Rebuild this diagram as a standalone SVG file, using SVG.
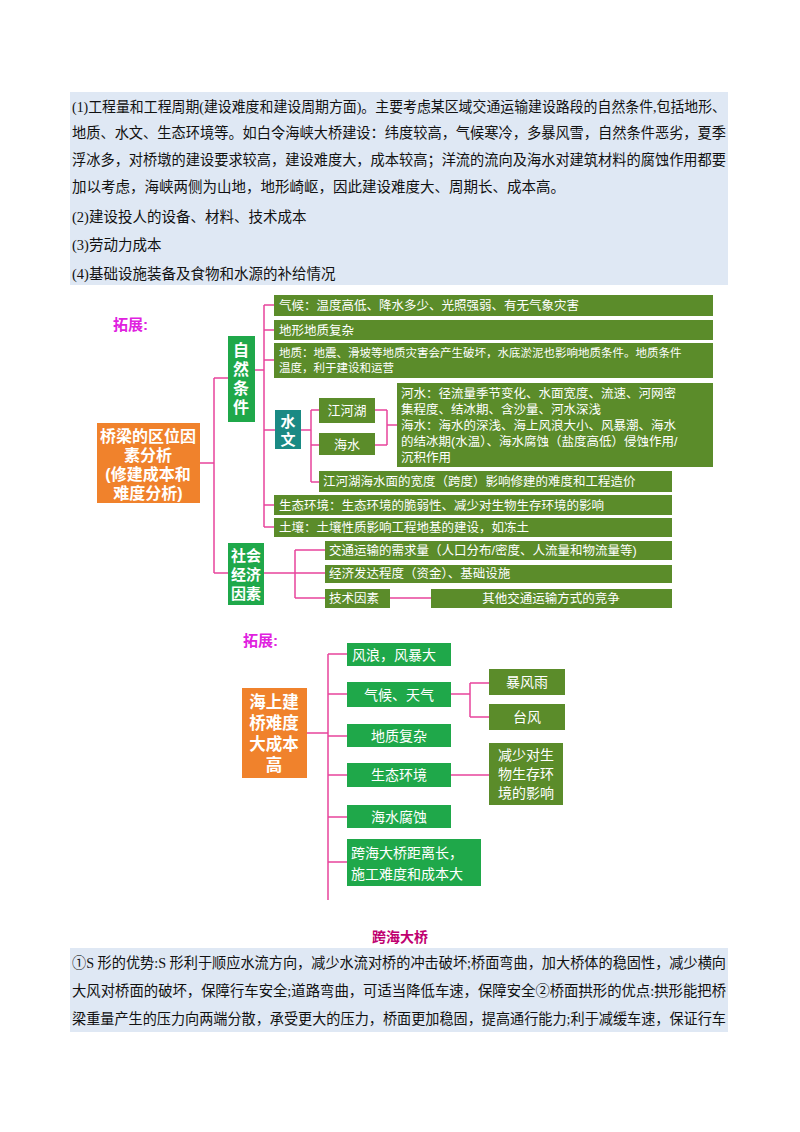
<svg xmlns="http://www.w3.org/2000/svg" width="800" height="1132" viewBox="0 0 800 1132">
<style>
.t{font-family:"Liberation Serif","Noto Sans CJK SC",serif;font-size:14.5px;fill:#111}
.s{font-family:"Liberation Sans","Noto Sans CJK SC",sans-serif;fill:#fff}
.o{fill:#5b8c2a}
.g{fill:#1fa84a}
.c{stroke:#e8449c;stroke-width:1.5;fill:none}
.or{fill:#f0822c}
.m{font-family:"Liberation Sans","Noto Sans CJK SC",sans-serif;font-weight:bold;fill:#e021e0;font-size:15px}
</style>
<rect width="800" height="1132" fill="#fff"/>
<rect x="70" y="92" width="658" height="193" fill="#dfe8f4"/>
<rect x="70" y="948" width="658" height="84" fill="#dfe8f4"/>
<g id="text-top">
<text class="t" x="72" y="112" textLength="654" lengthAdjust="spacingAndGlyphs">(1)工程量和工程周期(建设难度和建设周期方面)。主要考虑某区域交通运输建设路段的自然条件,包括地形、</text>
<text class="t" x="72" y="138" textLength="654" lengthAdjust="spacingAndGlyphs">地质、水文、生态环境等。如白令海峡大桥建设：纬度较高，气候寒冷，多暴风雪，自然条件恶劣，夏季</text>
<text class="t" x="72" y="165" textLength="654" lengthAdjust="spacingAndGlyphs">浮冰多，对桥墩的建设要求较高，建设难度大，成本较高；洋流的流向及海水对建筑材料的腐蚀作用都要</text>
<text class="t" x="72" y="192">加以考虑，海峡两侧为山地，地形崎岖，因此建设难度大、周期长、成本高。</text>
<text class="t" x="72" y="222">(2)建设投人的设备、材料、技术成本</text>
<text class="t" x="72" y="250">(3)劳动力成本</text>
<text class="t" x="72" y="279">(4)基础设施装备及食物和水源的补给情况</text>
</g>
<text class="m" x="113" y="330">拓展:</text>
<g id="connectors1">
<path class="c" d="M200 463H214M214 378V573M214 378H228M214 573H228M255 370H264M264 305V527M264 305H274M264 330H274M264 360H274M264 430H275M264 505H274M264 527H274M301 430H311M311 410V482M311 410H319M311 445H319M311 482H319M375 410H387M375 445H387M387 410V445M387 425H397M264 573H295M295 550V598M295 550H325M295 573H325M295 598H325M390 598H431"/>
</g>
<g id="n-center"><rect class="or" x="97" y="423" width="103" height="80"/>
<text class="s" font-size="16" font-weight="bold" text-anchor="middle"><tspan x="148" y="442">桥梁的区位因</tspan><tspan x="148" y="461">素分析</tspan><tspan x="148" y="480">(修建成本和</tspan><tspan x="148" y="499">难度分析)</tspan></text></g>
<g id="n-ziran"><rect class="g" x="228" y="336" width="27" height="86"/>
<text class="s" font-size="16" font-weight="bold" text-anchor="middle"><tspan x="241" y="356">自</tspan><tspan x="241" y="375">然</tspan><tspan x="241" y="394">条</tspan><tspan x="241" y="413">件</tspan></text></g>
<g id="n-shehui"><rect class="g" x="228" y="543" width="36" height="62"/>
<text class="s" font-size="15" font-weight="bold" text-anchor="middle"><tspan x="246" y="561">社会</tspan><tspan x="246" y="580">经济</tspan><tspan x="246" y="599">因素</tspan></text></g>
<g id="n-shuiwen"><rect fill="#1a8a84" x="275" y="410" width="26" height="39"/>
<text class="s" font-size="15" font-weight="bold" text-anchor="middle"><tspan x="288" y="427">水</tspan><tspan x="288" y="445">文</tspan></text></g>
<g id="n-qihou"><rect class="o" x="274" y="295" width="439" height="21"/><text class="s" font-size="12.5" x="279" y="310">气候：温度高低、降水多少、光照强弱、有无气象灾害</text></g>
<g id="n-dixing"><rect class="o" x="274" y="320" width="439" height="20"/><text class="s" font-size="12.5" x="279" y="335">地形地质复杂</text></g>
<g id="n-dizhi"><rect class="o" x="274" y="343" width="439" height="35"/><text class="s" font-size="11.5"><tspan x="279" y="357">地质：地震、滑坡等地质灾害会产生破坏，水底淤泥也影响地质条件。地质条件</tspan><tspan x="279" y="372">温度，利于建设和运营</tspan></text></g>
<g id="n-jhh"><rect class="o" x="319" y="398" width="56" height="25"/><text class="s" font-size="13" x="347" y="415" text-anchor="middle">江河湖</text></g>
<g id="n-hs"><rect class="o" x="319" y="433" width="56" height="22"/><text class="s" font-size="13" x="347" y="449" text-anchor="middle">海水</text></g>
<g id="n-heshui"><rect class="o" x="397" y="383" width="316" height="84"/><text class="s" font-size="12.5"><tspan x="401" y="398">河水：径流量季节变化、水面宽度、流速、河网密</tspan><tspan x="401" y="414">集程度、结冰期、含沙量、河水深浅</tspan><tspan x="401" y="430">海水：海水的深浅、海上风浪大小、风暴潮、海水</tspan><tspan x="401" y="446">的结冰期(水温）、海水腐蚀（盐度高低）侵蚀作用/</tspan><tspan x="401" y="462">沉积作用</tspan></text></g>
<g id="n-kuan"><rect class="o" x="319" y="471" width="353" height="21"/><text class="s" font-size="12.5" x="323" y="486">江河湖海水面的宽度（跨度）影响修建的难度和工程造价</text></g>
<g id="n-shengtai"><rect class="o" x="274" y="495" width="398" height="20"/><text class="s" font-size="12.5" x="279" y="510">生态环境：生态环境的脆弱性、减少对生物生存环境的影响</text></g>
<g id="n-turang"><rect class="o" x="274" y="518" width="398" height="19"/><text class="s" font-size="12.5" x="279" y="532">土壤：土壤性质影响工程地基的建设，如冻土</text></g>
<g id="n-jiaotong"><rect class="o" x="325" y="541" width="347" height="19"/><text class="s" font-size="12.5" x="329" y="555">交通运输的需求量（人口分布/密度、人流量和物流量等)</text></g>
<g id="n-jingji"><rect class="o" x="325" y="565" width="347" height="18"/><text class="s" font-size="12.5" x="329" y="578">经济发达程度（资金）、基础设施</text></g>
<g id="n-jishu"><rect class="o" x="325" y="589" width="65" height="19"/><text class="s" font-size="12.5" x="329" y="603">技术因素</text></g>
<g id="n-qita"><rect class="o" x="431" y="589" width="241" height="19"/><text class="s" font-size="12.5" x="551" y="603" text-anchor="middle">其他交通运输方式的竞争</text></g>

<text class="m" x="243" y="646">拓展:</text>
<g id="connectors2">
<path class="c" d="M307 733H328M328 654V900M328 654H347M328 694H347M328 736H347M328 775H347M328 817H347M328 862H347M451 694H470M470 683V717M470 683H489M470 717H489M451 775H489"/>
</g>
<g id="n2-center"><rect class="or" x="242" y="688" width="65" height="90"/>
<text class="s" font-size="16.5" font-weight="bold" text-anchor="middle"><tspan x="274" y="708">海上建</tspan><tspan x="274" y="729">桥难度</tspan><tspan x="274" y="750">大成本</tspan><tspan x="274" y="771">高</tspan></text></g>
<g id="n2-fl"><rect class="g" x="347" y="643" width="104" height="23"/><text class="s" font-size="14" x="352" y="660">风浪，风暴大</text></g>
<g id="n2-qh"><rect class="g" x="347" y="682" width="104" height="25"/><text class="s" font-size="14" x="399" y="700" text-anchor="middle">气候、天气</text></g>
<g id="n2-dz"><rect class="g" x="347" y="724" width="104" height="23"/><text class="s" font-size="14" x="399" y="741" text-anchor="middle">地质复杂</text></g>
<g id="n2-st"><rect class="g" x="347" y="763" width="104" height="24"/><text class="s" font-size="14" x="399" y="780" text-anchor="middle">生态环境</text></g>
<g id="n2-hs"><rect class="g" x="347" y="805" width="104" height="23"/><text class="s" font-size="14" x="399" y="822" text-anchor="middle">海水腐蚀</text></g>
<g id="n2-kh"><rect class="g" x="347" y="839" width="134" height="47"/><text class="s" font-size="14"><tspan x="351" y="858">跨海大桥距离长，</tspan><tspan x="351" y="879">施工难度和成本大</tspan></text></g>
<g id="n2-bfy"><rect class="o" x="489" y="669" width="76" height="26"/><text class="s" font-size="14" x="527" y="687" text-anchor="middle">暴风雨</text></g>
<g id="n2-tf"><rect class="o" x="489" y="704" width="76" height="26"/><text class="s" font-size="14" x="527" y="722" text-anchor="middle">台风</text></g>
<g id="n2-js"><rect class="o" x="489" y="743" width="74" height="62"/><text class="s" font-size="14" text-anchor="middle"><tspan x="526" y="760">减少对生</tspan><tspan x="526" y="779">物生存环</tspan><tspan x="526" y="798">境的影响</tspan></text></g>

<text x="400" y="942" text-anchor="middle" font-family="Liberation Serif,'Noto Sans CJK SC',serif" font-size="14" font-weight="bold" fill="#c00070">跨海大桥</text>
<g id="text-bottom">
<text class="t" x="72" y="968" textLength="654" lengthAdjust="spacingAndGlyphs">①S 形的优势:S 形利于顺应水流方向，减少水流对桥的冲击破坏;桥面弯曲，加大桥体的稳固性，减少横向</text>
<text class="t" x="72" y="996" textLength="654" lengthAdjust="spacingAndGlyphs">大风对桥面的破坏，保障行车安全;道路弯曲，可适当降低车速，保障安全②桥面拱形的优点:拱形能把桥</text>
<text class="t" x="72" y="1024" textLength="654" lengthAdjust="spacingAndGlyphs">梁重量产生的压力向两端分散，承受更大的压力，桥面更加稳固，提高通行能力;利于减缓车速，保证行车</text>
</g>
</svg>
